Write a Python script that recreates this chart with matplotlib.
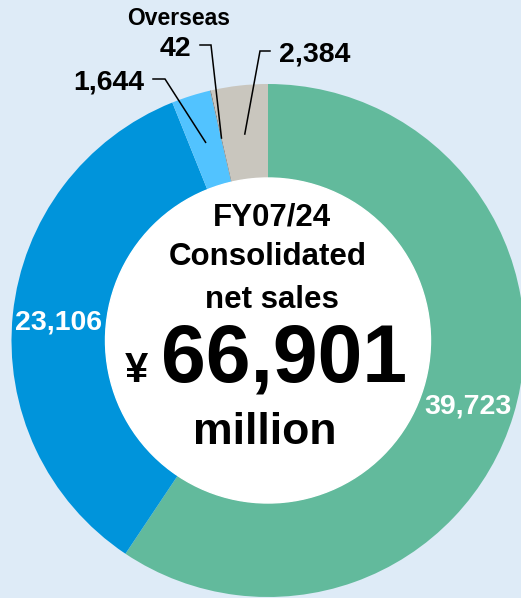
import numpy as np
import matplotlib
matplotlib.use('Agg')
import matplotlib.pyplot as plt

# --- data ---
segments = ['Japan', 'Asia', 'Americas', 'Europe', 'Other']
values = [39723, 23106, 1644, 42, 2384]
value_labels = ['39,723', '23,106', '1,644', '42', '2,384']
colors = ['#62ba9c', '#0094db', '#52c3ff', '#85857d', '#c9c6be']
total_label = '66,901'

W, H = 521, 598
bg = '#deebf7'

fig = plt.figure(figsize=(W / 100, H / 100), dpi=100, facecolor=bg)
ax = fig.add_axes([0, 0, 1, 1])
ax.set_facecolor(bg)


def py(y):
    # pixel-from-top -> data y
    return H - y


cx, cy = 268, py(340.5)
R = 256.5
ring = 94

wedges, _ = ax.pie(values, colors=colors, startangle=90, counterclock=False,
                   center=(cx, cy), radius=R, frame=True,
                   wedgeprops=dict(width=ring, linewidth=0))
ax.add_patch(plt.Circle((cx, cy), R - ring, color='white', zorder=3))
ax.set_xlim(0, W)
ax.set_ylim(0, H)
ax.set_aspect('equal')
ax.axis('off')

font = 'Liberation Sans'

# white labels inside the ring
ax.text(58.5, py(329), value_labels[1], color='white', fontsize=20.5,
        fontweight='bold', family=font, ha='center', va='baseline', zorder=4)
ax.text(468, py(413), value_labels[0], color='white', fontsize=20.5,
        fontweight='bold', family=font, ha='center', va='baseline', zorder=4)

# small slices: labels with elbow leader lines
def mid_point(w, frac=0.81):
    a = np.deg2rad((w.theta1 + w.theta2) / 2)
    return cx + R * frac * np.cos(a), cy + R * frac * np.sin(a)

leaders = [  # (wedge index, text x, text baseline y, ha, elbow start x, elbow x, elbow y)
    (2, 144, 90, 'right', 153, 165, 79),
    (3, 175, 56, 'center', 200, 211, 45),
    (4, 279, 61, 'left', 270, 260, 51),
]
for i, tx, ty, ha, x0, x1, ey in leaders:
    px, pyy = mid_point(wedges[i])
    ax.plot([x0, x1, px], [py(ey), py(ey), pyy], color='black', lw=1.1,
            zorder=5, solid_joinstyle='miter')
    ax.text(tx, py(ty), value_labels[i], color='black', fontsize=20.5,
            fontweight='bold', family=font, ha=ha, va='baseline', zorder=5)

ax.text(179, py(25), 'Overseas', color='black', fontsize=16.5,
        fontweight='bold', family=font, ha='center', va='baseline', zorder=5)

# centre text
ax.text(272, py(225), 'FY07/24', fontsize=22.5, fontweight='bold',
        family=font, ha='center', va='baseline', zorder=5)
ax.text(268, py(265), 'Consolidated', fontsize=22.5, fontweight='bold',
        family=font, ha='center', va='baseline', zorder=5)
ax.text(272, py(308), 'net sales', fontsize=22.5, fontweight='bold',
        family=font, ha='center', va='baseline', zorder=5)
ax.text(284.5, py(381), total_label, fontsize=58, fontweight='bold',
        family=font, ha='center', va='baseline', zorder=5)
ax.text(136, py(382), '¥', fontsize=30, fontweight='bold',
        family=font, ha='center', va='baseline', zorder=5)
ax.text(265, py(444), 'million', fontsize=32, fontweight='bold',
        family=font, ha='center', va='baseline', zorder=5)

fig.savefig('out.png', dpi=100, facecolor=bg)
